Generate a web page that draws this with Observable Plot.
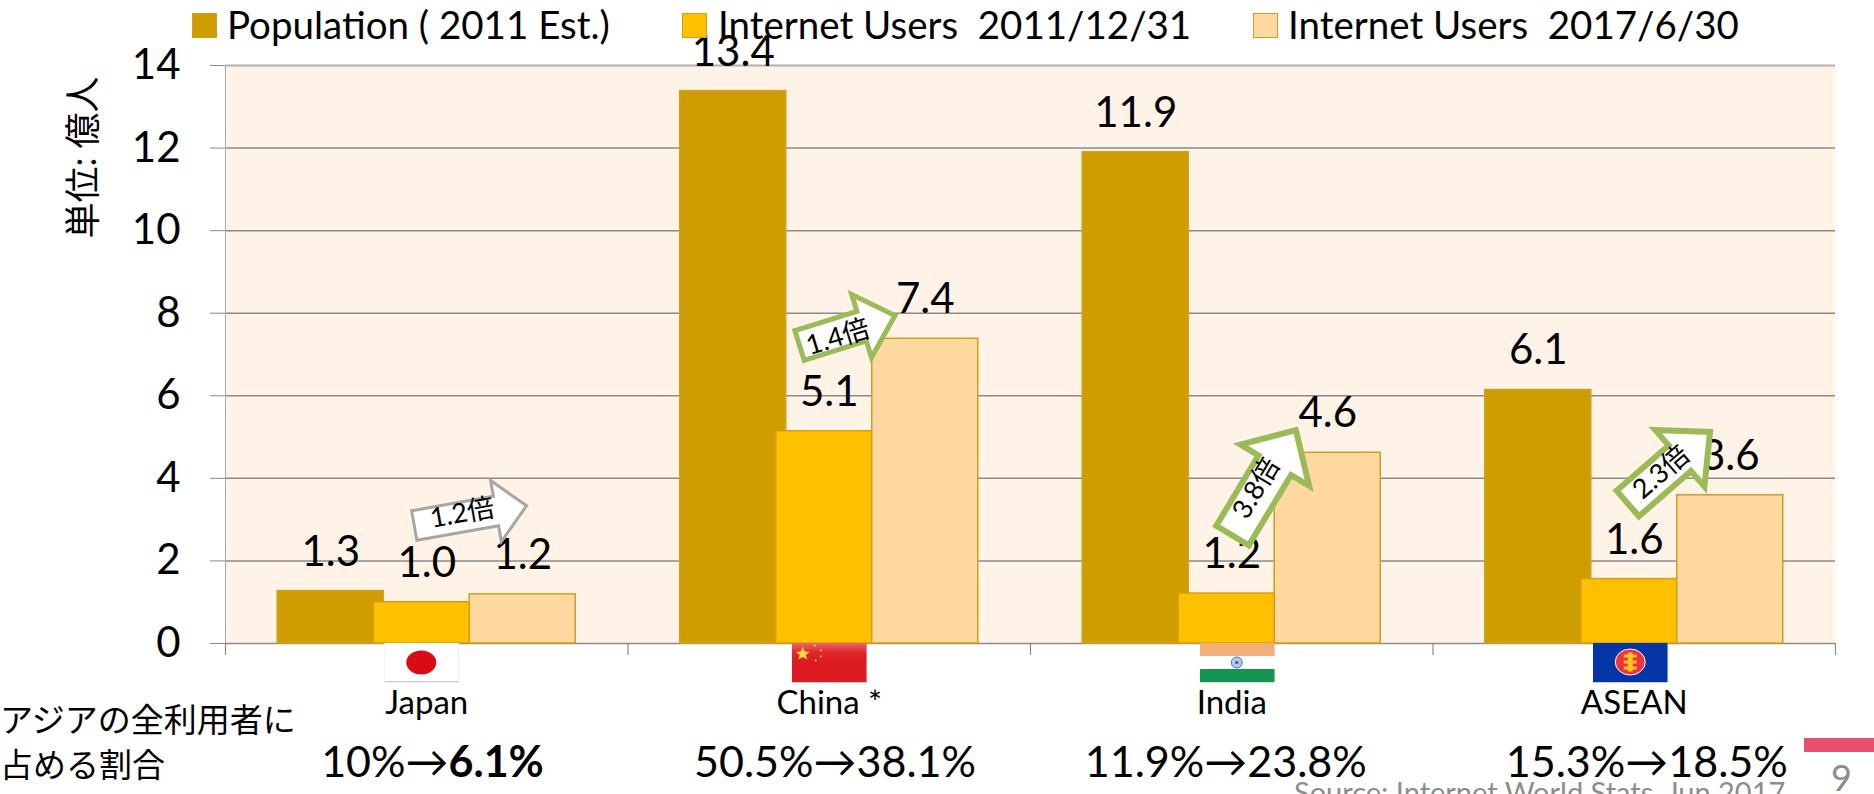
<!DOCTYPE html>
<html><head><meta charset="utf-8">
<script src="https://cdn.jsdelivr.net/npm/d3@7"></script>
<script src="https://cdn.jsdelivr.net/npm/@observablehq/plot@0.6"></script>
<style>
html,body{margin:0;padding:0;background:#fff;width:1874px;height:794px;overflow:hidden}
#page{position:relative;width:1874px;height:794px;overflow:hidden;font-family:Lato,"Noto Sans CJK JP",sans-serif;color:#000}
#page svg{position:absolute;left:0;top:0;overflow:visible}
.a{position:absolute;white-space:pre;line-height:1}
.sw{position:absolute;width:25px;height:25px;box-sizing:border-box;top:13px}
</style></head><body><div id="page"></div>
<script>
const categories = ["Japan", "China *", "India", "ASEAN"];
const population = [1.27, 13.38, 11.9, 6.14];
const users2011 = [1.0, 5.14, 1.21, 1.56];
const users2017 = [1.19, 7.38, 4.62, 3.59];
const yTicks = [0, 2, 4, 6, 8, 10, 12, 14];
const growthLabels = ["1.2倍", "1.4倍", "3.8倍", "2.3倍"];
const shareBefore = ["10%→", "50.5%→", "11.9%→", "15.3%→"];
const shareAfter = ["6.1%", "38.1%", "23.8%", "18.5%"];
const seriesNames = ["Population ( 2011 Est.)", "Internet Users  2011/12/31", "Internet Users  2017/6/30"];
const seriesFill = ["#CF9D00", "#FFC000", "#FFD8A0"];
const seriesStroke = ["#CFA21E", "#D4A010", "#CE9E1E"];

// Layout, in pixels relative to the band centre and the y=0 baseline
const W = 1874, H = 794, BAR_STEP = 96, HALF_BAND = 201.25;
const arrows = [
  {dx:-12.5, dy:-118, len:114, rot:80,   shaft:30, head:62, headLen:31, stroke:"#A6A6A6", sw:3, tx:35.5,  ty:-130, tr:-10, fs:27},
  {dx:-29.7, dy:-298, len:100, rot:72.6, shaft:31, head:66, headLen:35, stroke:"#9BBB59", sw:5, tx:8.7,   ty:-306, tr:-17, fs:27},
  {dx:0.8,   dy:-108, len:123, rot:31,   shaft:38, head:80, headLen:41, stroke:"#9BBB59", sw:6, tx:24.5,  ty:-155, tr:-59, fs:27},
  {dx:-6.5,  dy:-140, len:109, rot:49,   shaft:34, head:75, headLen:40, stroke:"#9BBB59", sw:6, tx:27,    ty:-171, tr:-41, fs:27}
];
const shareDx = [21.75, 27.25, 15.5, 34];
const flagDx = [-5, 0, 5.5, -4];

function blockArrow(shaft, head, headLen){
  return {draw(c, l){
    c.moveTo(-shaft/2, 0);
    c.lineTo(-shaft/2, -l+headLen);
    c.lineTo(-head/2, -l+headLen);
    c.lineTo(0, -l);
    c.lineTo(head/2, -l+headLen);
    c.lineTo(shaft/2, -l+headLen);
    c.lineTo(shaft/2, 0);
    c.closePath();
  }};
}
function svgUrl(body){
  return "data:image/svg+xml," + encodeURIComponent(`<svg xmlns="http://www.w3.org/2000/svg" viewBox="0 0 75 40" width="75" height="40" preserveAspectRatio="none"><defs><linearGradient id="g" x1="0" y1="0" x2="0" y2="1"><stop offset="0" stop-color="#fff" stop-opacity=".35"/><stop offset=".5" stop-color="#fff" stop-opacity=".05"/><stop offset="1" stop-color="#fff" stop-opacity="0"/></linearGradient></defs>${body}</svg>`);
}
const flags = [
  svgUrl(`<rect width="75" height="40" fill="#fff"/><rect y="38.5" width="75" height="1.5" fill="#ccc"/><rect width="1" height="40" fill="#eee"/><rect x="74" width="1" height="40" fill="#eee"/><ellipse cx="37" cy="20" rx="15" ry="12" fill="#DC0A14"/>`),
  svgUrl(`<rect width="75" height="40" fill="#DE1B20"/><rect width="75" height="20" fill="url(#g)"/><polygon points="11,4 13,9 18,9.5 14,12.5 15.5,17 11,14.5 6.5,17 8,12.5 4,9.5 9,9" fill="#FFDE3A"/><circle cx="23" cy="3" r="1" fill="#FFDE3A"/><circle cx="29" cy="8" r="1" fill="#FFDE3A"/><circle cx="29" cy="14" r="1" fill="#FFDE3A"/><circle cx="24" cy="18" r="1" fill="#FFDE3A"/>`),
  svgUrl(`<rect width="75" height="13.5" fill="#F4AF78"/><rect y="13.5" width="75" height="13" fill="#fff"/><rect y="26.5" width="75" height="13.5" fill="#149653"/><circle cx="37" cy="20" r="5.5" fill="#B9C8E6" stroke="#5070B0" stroke-width="1"/><circle cx="37" cy="20" r="1.6" fill="#3558A0"/>`),
  svgUrl(`<rect width="75" height="40" fill="#0335A6"/><ellipse cx="37.5" cy="19.5" rx="15" ry="13" fill="#EE3340" stroke="#fff" stroke-width="1"/><rect x="31" y="12" width="13" height="3" fill="#FFC51E"/><rect x="31" y="18" width="13" height="3" fill="#FFC51E"/><rect x="31" y="24" width="13" height="3" fill="#FFC51E"/><rect x="35" y="10" width="5" height="19" fill="#FFC51E"/>`)
];

const series = [population, users2011, users2017];
const offsets = [-BAR_STEP, 0, BAR_STEP];

const chart = Plot.plot({
  width: W, height: H,
  marginTop: 65, marginBottom: 151, marginLeft: 225, marginRight: 39,
  style: {background: "transparent", fontFamily: 'Lato,"Noto Sans CJK JP",sans-serif', color: "#000"},
  x: {domain: categories, paddingInner: 0.7366, paddingOuter: 0.3683, round: false, label: null},
  y: {domain: [0, 14], nice: false, label: null},
  marks: [
    Plot.frame({fill: "#FFF3E7", stroke: "none"}),
    Plot.ruleY(yTicks.filter(t => t < 14), {stroke: "#8A8A8A", strokeWidth: 1.5}),
    Plot.ruleY([14], {stroke: "#B0B0B0", strokeWidth: 2}),
    Plot.axisY({ticks: yTicks, tickSize: 15, tickPadding: 30, fontSize: 42, stroke: "#8A8A8A", label: null, tickFormat: d => d}),
    Plot.ruleX(categories.slice(0, 1), {x: d => d, y1: 0, y2: 14, dx: -HALF_BAND, stroke: "#A8A8A8", strokeWidth: 1}),
    Plot.ruleX(categories, {x: d => d, y1: 0, y2: 0, insetBottom: -12, dx: -HALF_BAND, stroke: "#8A8A8A", strokeWidth: 1.2}),
    Plot.ruleX(categories.slice(-1), {x: d => d, y1: 0, y2: 0, insetBottom: -12, dx: HALF_BAND, stroke: "#8A8A8A", strokeWidth: 1.2}),
    Plot.axisX({tickSize: 0, tickPadding: 47, fontSize: 33, label: null, lineAnchor: "top"}),
    ...series.map((vals, s) => Plot.barY(categories, {x: categories, y: vals, dx: offsets[s], fill: seriesFill[s], stroke: seriesStroke[s], strokeWidth: 1.5})),
    ...series.map((vals, s) => Plot.text(categories, {x: categories, y: vals, text: vals.map(v => v.toFixed(1)), dx: offsets[s], dy: -39, fontSize: 42, fill: "#000", lineAnchor: "middle"})),
    ...categories.flatMap((c, i) => {
      const a = arrows[i];
      return [
        Plot.image([c], {x: categories.slice(i, i + 1), y: [0], src: [flags[i]], width: 75, height: 40, dx: flagDx[i], dy: 19}),
        Plot.vector([c], {x: categories.slice(i, i + 1), y: [0], length: a.len, rotate: a.rot, anchor: "start", shape: blockArrow(a.shaft, a.head, a.headLen), fill: "#fff", stroke: a.stroke, strokeWidth: a.sw, strokeLinejoin: "miter", dx: a.dx, dy: a.dy}),
        Plot.text([growthLabels[i]], {x: categories.slice(i, i + 1), y: [0], text: d => d, fontSize: a.fs, fill: "#000", rotate: a.tr, dx: a.tx, dy: a.ty, lineAnchor: "middle"}),
        Plot.text([shareBefore[i]], {x: categories.slice(i, i + 1), y: [0], text: d => d, fontSize: 43, fill: "#000", textAnchor: "end", dx: shareDx[i], dy: 120, lineAnchor: "middle"}),
        Plot.text([shareAfter[i]], {x: categories.slice(i, i + 1), y: [0], text: d => d, fontSize: 43, fill: "#000", fontWeight: i === 0 ? "bold" : "normal", textAnchor: "start", dx: shareDx[i], dy: 120, lineAnchor: "middle"})
      ];
    }),
    Plot.text(["単位: 億人"], {frameAnchor: "left", textAnchor: "middle", text: d => d, rotate: -90, fontSize: 36, fill: "#000", dx: -141, dy: -197, lineAnchor: "middle"})
  ]
});

const page = document.getElementById("page");
page.appendChild(chart);

// Legend, side label, footer
const swatchX = [192, 682, 1253], textX = [227, 718, 1288];
seriesNames.forEach((name, i) => {
  const sw = document.createElement("div");
  sw.className = "sw";
  sw.style.cssText = `left:${swatchX[i]}px;background:${seriesFill[i]};border:1.5px solid ${seriesStroke[i]}`;
  page.appendChild(sw);
  const t = document.createElement("div");
  t.className = "a";
  t.textContent = name;
  t.style.cssText = `left:${textX[i]}px;top:5px;font-size:38.5px`;
  page.appendChild(t);
});
function note(text, css){
  const t = document.createElement("div");
  t.className = "a"; t.textContent = text; t.style.cssText = css;
  page.appendChild(t);
}
note("アジアの全利用者に", "left:0;top:702px;font-size:33px;font-family:'Noto Sans CJK JP'");
note("占める割合", "left:0;top:747px;font-size:33px;font-family:'Noto Sans CJK JP'");
note("Source: Internet World Stats, Jun 2017", "left:1294px;top:777px;font-size:29px;color:#8C8C8C");
note("9", "left:1831px;top:759px;font-size:36px;color:#8C8C8C");
const bar = document.createElement("div");
bar.style.cssText = "position:absolute;left:1804px;top:738px;width:70px;height:14px;background:#E9506F";
page.appendChild(bar);
</script></body></html>
